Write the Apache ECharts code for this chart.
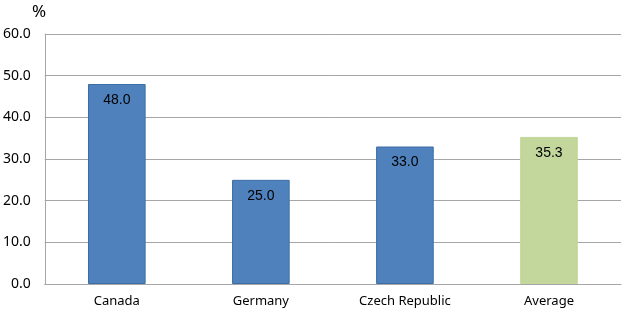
<!DOCTYPE html>
<html><head><meta charset="utf-8">
<script src="https://cdn.jsdelivr.net/npm/echarts@6/dist/echarts.min.js"></script>
<style>html,body{margin:0;padding:0;background:#fff}#c{width:624px;height:314px}</style>
</head><body><div id="c"></div>
<script>
const categories = ["Canada", "Germany", "Czech Republic", "Average"];
const values = [48.0, 25.0, 33.0, 35.3];
const barColors = ["#4F81BD", "#4F81BD", "#4F81BD", "#C3D69B"];
const borderColors = ["#3C6DA8", "#3C6DA8", "#3C6DA8", "#C3D69B"];
const yTicks = [0, 10, 20, 30, 40, 50, 60];

const chart = echarts.init(document.getElementById('c'), null, {renderer: 'canvas'});
chart.setOption({
  animation: false,
  grid: {left: 44, right: 3, top: 34, bottom: 30, containLabel: false},
  graphic: [{type: 'text', left: 32, top: 4, style: {text: '%', font: '17px "Noto Sans"', fill: '#000'}}],
  xAxis: {
    type: 'category', data: categories,
    axisLine: {lineStyle: {color: '#A6A6A6', width: 1}},
    axisTick: {show: false},
    axisLabel: {color: '#000', fontFamily: 'Noto Sans', fontSize: 13, margin: 11}
  },
  yAxis: {
    type: 'value', min: yTicks[0], max: yTicks[yTicks.length - 1], interval: 10,
    axisLine: {show: true, lineStyle: {color: '#A6A6A6', width: 1}},
    axisTick: {show: false},
    splitLine: {lineStyle: {color: '#A6A6A6', width: 1}},
    axisLabel: {color: '#000', fontFamily: 'Noto Sans', fontSize: 14, margin: 14,
      formatter: v => v.toFixed(1)}
  },
  series: [{
    type: 'bar', barWidth: '40%',
    data: values.map((v, i) => ({value: v, itemStyle: {color: barColors[i], borderColor: borderColors[i], borderWidth: 1}})),
    label: {show: true, position: 'insideTop', distance: 9, color: '#000',
      fontFamily: 'Liberation Sans', fontSize: 14, formatter: p => p.value.toFixed(1)}
  }]
});
</script></body></html>
